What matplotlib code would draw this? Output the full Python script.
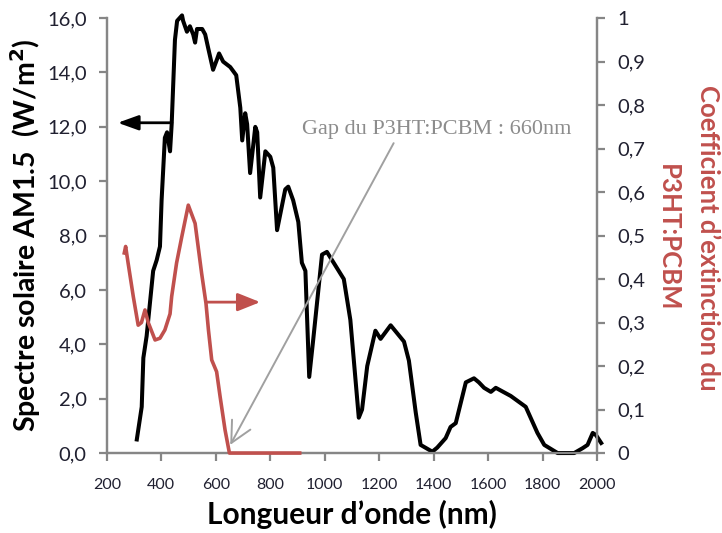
import numpy as np
import matplotlib.pyplot as plt

# AM1.5 solar spectrum (left axis, W/m2)
solar_nm = [310, 328, 334, 346, 370, 383, 395, 401, 413, 421, 432, 438, 450, 458,
            476, 480, 494, 505, 517, 524, 531, 550, 561, 572, 590, 605, 612, 627,
            653, 675, 690, 697, 708, 715, 726, 745, 752, 763, 782, 800, 811, 825,
            855, 866, 884, 903, 916, 929, 943, 958, 990, 1008, 1070, 1094, 1125,
            1137, 1156, 1186, 1205, 1242, 1291, 1309, 1334, 1352, 1395, 1413, 1444,
            1462, 1481, 1518, 1548, 1566, 1585, 1610, 1628, 1683, 1738, 1781, 1806,
            1855, 1916, 1947, 1965, 1984, 1996, 2015]
solar_w = [0.5, 1.7, 3.5, 4.3, 6.7, 7.1, 7.6, 9.3, 11.6, 11.8, 11.1, 12.1, 15.2, 15.9,
           16.1, 15.9, 15.5, 15.7, 15.4, 15.1, 15.6, 15.6, 15.4, 14.9, 14.1, 14.5, 14.7, 14.4,
           14.2, 13.9, 12.7, 11.5, 12.5, 12.1, 10.3, 12.0, 11.8, 9.4, 11.1, 10.9, 10.5, 8.2,
           9.7, 9.8, 9.3, 8.5, 7.0, 6.7, 2.8, 4.2, 7.3, 7.4, 6.4, 4.9, 1.3,
           1.6, 3.2, 4.5, 4.2, 4.7, 4.1, 3.4, 1.5, 0.3, 0.05, 0.2, 0.55,
           0.96, 1.1, 2.6, 2.75, 2.6, 2.4, 2.25, 2.4, 2.1, 1.7, 0.74, 0.3,
           0.0, 0.0, 0.18, 0.3, 0.74, 0.66, 0.37]

# extinction coefficient of P3HT:PCBM (right axis)
ext_nm = [264, 269, 278, 297, 315, 327, 340, 352, 377, 395, 413, 432, 438, 456, 475,
          499, 524, 548, 564, 573, 585, 603, 616, 634, 650, 908]
ext_k = [0.46, 0.475, 0.437, 0.36, 0.294, 0.30, 0.329, 0.30, 0.26, 0.264, 0.283, 0.32, 0.36, 0.437, 0.497,
         0.57, 0.528, 0.413, 0.344, 0.283, 0.214, 0.187, 0.129, 0.053, 0.0, 0.0]

left_ticks = np.arange(0, 17, 2)
right_ticks = np.arange(0, 1.01, 0.1)
x_ticks = np.arange(200, 2001, 200)

gray = '#868686'
red = '#c0504d'
font = 'Lato'

fig = plt.figure(figsize=(7.22, 5.33), dpi=100)
ax = fig.add_axes([0.148, 0.150, 0.679, 0.816])
ax2 = ax.twinx()

ax.plot(solar_nm, solar_w, color='black', lw=2.9, clip_on=False, zorder=3)
ax2.plot(ext_nm, ext_k, color=red, lw=2.6, clip_on=False, zorder=3)

ax.set_xlim(200, 2000)
ax.set_ylim(0, 16)
ax2.set_ylim(0, 1)

ax.set_xticks(x_ticks)
ax.set_xticklabels([str(v) for v in x_ticks], fontsize=11.5, family=font)
ax.set_yticks(left_ticks)
ax.set_yticklabels([f'{v:.1f}'.replace('.', ',') for v in left_ticks], fontsize=14.5, family=font)
ax2.set_yticks(right_ticks)
ax2.set_yticklabels(['0'] + [f'{v:.1f}'.replace('.', ',') for v in right_ticks[1:-1]] + ['1'],
                    fontsize=14.5, family=font)

for a in (ax, ax2):
    for s in a.spines.values():
        s.set_color(gray)
        s.set_linewidth(1.6)
    a.spines['top'].set_visible(False)
    a.tick_params(colors=gray, width=1.6, length=6, labelcolor='#202030')
ax.tick_params(axis='x', pad=12)
ax.tick_params(axis='y', pad=8.5)
ax2.tick_params(axis='y', pad=8.5)

ax.set_xlabel("Longueur d\u2019onde (nm)", fontsize=21.5, fontweight='bold', family=font, labelpad=6)
ax.set_ylabel("Spectre solaire AM1.5  (W/m$^\\mathbf{2}$)", fontsize=20.5, fontweight='bold',
              family=font, labelpad=3)
fig.text(708 / 722, 1 - 238 / 533, "Coefficient d\u2019extinction du", rotation=-90,
         color=red, fontsize=18.5, fontweight='bold', family=font, ha='center', va='center')
fig.text(668 / 722, 1 - 238 / 533, "P3HT:PCBM", rotation=-90,
         color=red, fontsize=18.5, fontweight='bold', family=font, ha='center', va='center')

# arrows showing which axis each curve belongs to
ax.annotate('', xy=(240, 12.15), xytext=(439, 12.15),
            arrowprops=dict(arrowstyle='-|>,head_length=0.5,head_width=0.18', color='black',
                            lw=2, mutation_scale=25, shrinkA=0, shrinkB=0))
ax2.annotate('', xy=(763, 0.347), xytext=(568, 0.347),
             arrowprops=dict(arrowstyle='-|>,head_length=0.55,head_width=0.22', color=red,
                             lw=2, mutation_scale=25, shrinkA=0, shrinkB=0))

# gap annotation
ax.text(918, 11.9, 'Gap du P3HT:PCBM : 660nm', color='#8c8c8c', fontsize=16,
        family='Liberation Serif', va='center', ha='left')
ax.annotate('', xy=(653, 0.3), xytext=(1253, 11.4),
            arrowprops=dict(arrowstyle='->,head_length=0.6,head_width=0.3', color='#a0a0a0',
                            lw=1.4, mutation_scale=25, shrinkA=0, shrinkB=0))

fig.savefig('out.png', dpi=100)
